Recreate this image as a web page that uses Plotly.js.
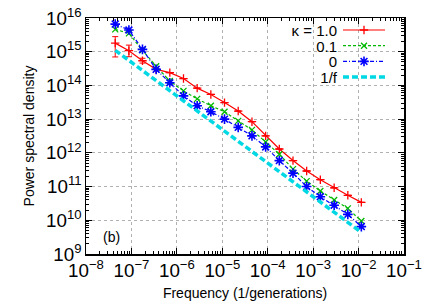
<!DOCTYPE html>
<html>
<head>
<meta charset="utf-8">
<script src="https://cdn.plot.ly/plotly-3.0.1.min.js"></script>
<style>
html,body{margin:0;padding:0;background:#fff;}
#chart{width:436px;height:305px;}
</style>
</head>
<body>
<div id="chart"></div>
<script>
// Frequencies (1/generations)
const freq = [4.4e-8, 8.8e-8, 1.75e-7, 3.5e-7, 7.0e-7, 1.4e-6, 2.8e-6, 5.6e-6, 1.12e-5, 2.24e-5,
              4.5e-5, 9.0e-5, 1.8e-4, 3.6e-4, 7.2e-4, 1.44e-3, 2.9e-3, 5.8e-3, 1.15e-2];
// kappa = 1.0
const psdK10 = [1.8e15, 1.07e15, 5.4e14, 3.0e14, 2.4e14, 1.6e14, 8.3e13, 5.4e13, 3.1e13, 1.74e13,
                8.4e12, 3.2e12, 1.3e12, 5.9e11, 2.9e11, 1.6e11, 9.2e10, 5.5e10, 3.4e10];
const errUpK10 = [1.0e15, 0.5e15, 0.1e15, 0, 0, 0, 0, 0, 0, 0, 0, 0, 0, 0, 0, 0, 0, 0, 0];
const errDnK10 = [1.1e15, 0.36e15, 0.08e15, 0, 0, 0, 0, 0, 0, 0, 0, 0, 0, 0, 0, 0, 0, 0, 0];
// kappa = 0.1
const psdK01 = [4.6e15, 3.5e15, 1.1e15, 3.7e14, 1.35e14, 6.9e13, 4.0e13, 2.5e13, 1.66e13, 8.9e12,
                4.8e12, 2.1e12, 9.1e11, 3.3e11, 1.45e11, 7.4e10, 4.0e10, 2.25e10, 9.5e9];
// kappa = 0
const psdK0 = [6.6e15, 4.4e15, 1.17e15, 3.0e14, 1.2e14, 4.9e13, 2.5e13, 1.66e13, 1.0e13, 5.7e12,
               3.2e12, 1.5e12, 5.9e11, 2.5e11, 1.0e11, 5.0e10, 2.8e10, 1.5e10, 6.5e9];
// 1/f reference line
const freqLine = [4.4e-8, 1.15e-2];
const psdLine = [1.1e15, 4.4e9];
const seriesNames = ["κ = 1.0", "0.1", "0", "1/f"];

const red = "#ff0000", green = "#00b800", blue = "#0000ff", cyan = "#00d8e4";

const traces = [
  {x: freq, y: psdK10, type: "scatter", mode: "lines+markers", name: seriesNames[0],
   line: {color: red, width: 1.2},
   marker: {symbol: "cross-thin", size: 6, color: red, line: {color: red, width: 1.3}},
   error_y: {type: "data", array: errUpK10, arrayminus: errDnK10, color: red, thickness: 1, width: 3}},
  {x: freq, y: psdK01, type: "scatter", mode: "lines+markers", name: seriesNames[1],
   line: {color: green, width: 1.2, dash: "3px,2px"},
   marker: {symbol: "x-thin", size: 6, color: green, line: {color: green, width: 1.3}}},
  {x: freq, y: psdK0, type: "scatter", mode: "lines+markers", name: seriesNames[2],
   line: {color: blue, width: 1.2, dash: "4px,2px,1px,2px"},
   marker: {symbol: "asterisk", size: 8, color: blue, line: {color: blue, width: 1.6}}},
  {x: freqLine, y: psdLine, type: "scatter", mode: "lines", name: seriesNames[3],
   line: {color: cyan, width: 3.5, dash: "6px,3px"}}
];

const fontFam = "Liberation Sans, Arial, Helvetica, sans-serif";
const axisCommon = {
  type: "log",
  exponentformat: "power",
  showline: true, linecolor: "#000", linewidth: 1.5, mirror: "ticks",
  ticks: "inside", ticklen: 6, tickcolor: "#000", tickwidth: 1,
  showgrid: true, gridcolor: "#b0b0b0", griddash: "dot", gridwidth: 1,
  zeroline: false,
  tickfont: {family: fontFam, size: 15, color: "#000"},
  minor: {ticks: "inside", ticklen: 3, tickcolor: "#000", showgrid: false}
};

const layout = {
  width: 436, height: 305,
  margin: {l: 86, r: 32, t: 18, b: 51},
  paper_bgcolor: "#fff", plot_bgcolor: "#fff",
  font: {family: fontFam, color: "#000"},
  showlegend: true,
  legend: {x: 0.985, xanchor: "right", y: 0.985, yanchor: "top", bgcolor: "rgba(0,0,0,0)",
           borderwidth: 0, font: {family: fontFam, size: 15, color: "#000"}},
  xaxis: Object.assign({}, axisCommon, {
    range: [-8, -1], dtick: 1,
    title: {text: "Frequency (1/generations)", font: {family: fontFam, size: 14}, standoff: 8}
  }),
  yaxis: Object.assign({}, axisCommon, {
    range: [9, 16], dtick: 1,
    title: {text: "Power spectral density", font: {family: fontFam, size: 14}, standoff: 8}
  }),
  annotations: [
    {text: "(b)", xref: "paper", yref: "paper", x: 0.08, y: 0.07, showarrow: false,
     xanchor: "center", yanchor: "middle", font: {family: fontFam, size: 14, color: "#000"}}
  ]
};

Plotly.newPlot("chart", traces, layout, {staticPlot: true}).then(function (gd) {
  // gnuplot-style key: label right-aligned to the left of a longer sample
  const leg = gd.querySelector(".legend");
  if (leg) {
    leg.querySelectorAll("[clip-path]").forEach(function (el) { el.removeAttribute("clip-path"); });
    const bg = leg.querySelector(".bg"); if (bg) bg.setAttribute("style", "fill:none;stroke:none");
    const rowGap = 15.7, sampleLeft = 343, sampleLen = 42, firstRow = 30;
    leg.querySelectorAll(".traces").forEach(function (it, i) {
      it.setAttribute("transform", "translate(0," + (i * rowGap) + ")");
      const t = it.querySelector(".legendtext");
      if (t) { t.setAttribute("text-anchor", "end"); t.setAttribute("x", -6); }
      it.querySelectorAll(".legendlines path, .legendfill path").forEach(function (p) {
        p.setAttribute("d", "M0,0h" + sampleLen);
      });
      it.querySelectorAll(".legendpoints path, .legendsymbols path").forEach(function (p) {
        const tr = p.getAttribute("transform") || "";
        p.setAttribute("transform", tr.replace(/translate\([^)]*\)/, "") + " translate(" + (sampleLen / 2) + ",0)");
      });
      const toggle = it.querySelector(".legendtoggle"); if (toggle) toggle.remove();
    });
    leg.setAttribute("transform", "translate(" + sampleLeft + "," + firstRow + ")");
    const scroll = leg.querySelector(".scrollbox"); if (scroll) scroll.setAttribute("transform", "translate(0,0)");
    leg.querySelectorAll(".groups").forEach(function (g) { g.setAttribute("transform", "translate(0,0)"); });
  }
  // drop empty placeholder text nodes
  gd.querySelectorAll("text").forEach(function (t) {
    if (!t.textContent || !t.textContent.trim()) t.remove();
  });
});
</script>
</body>
</html>
